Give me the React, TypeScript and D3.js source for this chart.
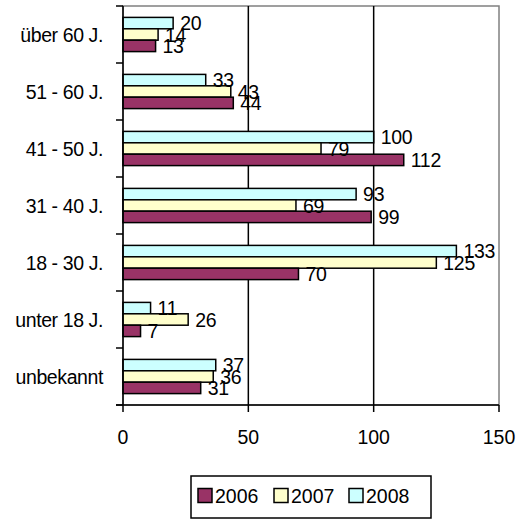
import React from "react";
import * as d3 from "d3";

const categories = ["über 60 J.", "51 - 60 J.", "41 - 50 J.", "31 - 40 J.", "18 - 30 J.", "unter 18 J.", "unbekannt"];
const seriesNames = ["2008", "2007", "2006"];
const values2006 = [13, 44, 112, 99, 70, 7, 31];
const values2007 = [14, 43, 79, 69, 125, 26, 36];
const values2008 = [20, 33, 100, 93, 133, 11, 37];
const xTicks = [0, 50, 100, 150];
const legendItems = ["2006", "2007", "2008"];

const colors: Record<string, string> = { "2006": "#993366", "2007": "#FFFFCC", "2008": "#CCFFFF" };
const seriesValues: Record<string, number[]> = { "2006": values2006, "2007": values2007, "2008": values2008 };

const FONT = "'Liberation Sans', Arial, sans-serif";

export default function App() {
  const left = 123, right = 499, top = 6, bottom = 405;
  const x = d3.scaleLinear().domain([0, 150]).range([left, right]);
  const y0 = d3.scaleBand().domain(categories).range([top, bottom]).paddingInner(0).paddingOuter(0);
  const y1 = d3.scaleBand().domain(seriesNames).range([0, y0.bandwidth()]).paddingInner(0).paddingOuter(1);
  const fs = 19.5;

  return (
    <svg width={519} height={519} style={{ position: "absolute", left: 0, top: 0 }} fontFamily={FONT}>
      <rect x={0} y={0} width={519} height={519} fill="#fff" />
      {/* plot border */}
      <rect x={left} y={top} width={right - left} height={bottom - top} fill="#fff" stroke="#808080" strokeWidth={1.5} />
      {/* gridlines */}
      {xTicks.slice(1, -1).map((t) => (
        <line key={t} x1={x(t)} x2={x(t)} y1={top} y2={bottom} stroke="#000" strokeWidth={1.5} />
      ))}
      {/* bars */}
      {categories.map((c, i) => (
        <g key={c}>
          {seriesNames.map((s) => {
            const v = seriesValues[s][i];
            const yy = (y0(c) as number) + (y1(s) as number);
            return (
              <rect key={s} x={x(0)} y={yy} width={x(v) - x(0)} height={y1.bandwidth()} fill={colors[s]} stroke="#000" strokeWidth={1.5} />
            );
          })}
        </g>
      ))}
      {/* value labels */}
      {categories.map((c, i) => (
        <g key={"l" + c}>
          {seriesNames.map((s) => {
            const v = seriesValues[s][i];
            const yy = (y0(c) as number) + (y1(s) as number) + y1.bandwidth() / 2;
            return (
              <text key={s} x={x(v) + 7} y={yy} dy="0.36em" fontSize={fs} fill="#000" letterSpacing={-0.3}>
                {v}
              </text>
            );
          })}
        </g>
      ))}
      {/* axes */}
      <line x1={left} x2={left} y1={top} y2={bottom} stroke="#000" strokeWidth={1.5} />
      <line x1={116} x2={right} y1={bottom} y2={bottom} stroke="#000" strokeWidth={1.5} />
      {d3.range(categories.length + 1).map((k) => {
        const yy = top + k * y0.step();
        return <line key={k} x1={116} x2={left} y1={yy} y2={yy} stroke="#000" strokeWidth={1.5} />;
      })}
      {xTicks.map((t) => (
        <g key={t}>
          <line x1={x(t)} x2={x(t)} y1={bottom} y2={bottom + 7} stroke="#000" strokeWidth={1.5} />
          <text x={x(t)} y={437} dy="0.36em" textAnchor="middle" fontSize={fs}>
            {t}
          </text>
        </g>
      ))}
      {categories.map((c) => (
        <text key={c} x={103} y={(y0(c) as number) + y0.bandwidth() / 2} dy="0.36em" textAnchor="end" fontSize={fs} letterSpacing={-0.4}>
          {c}
        </text>
      ))}
      {/* legend */}
      <rect x={191} y={476} width={240} height={42} fill="#fff" stroke="#000" strokeWidth={1.5} />
      {legendItems.map((s, i) => {
        const lx = [198, 274, 349][i];
        return (
          <g key={s}>
            <rect x={lx} y={488.5} width={14} height={14} fill={colors[s]} stroke="#000" strokeWidth={1.5} />
            <text x={lx + 17} y={496} dy="0.36em" fontSize={fs}>
              {s}
            </text>
          </g>
        );
      })}
    </svg>
  );
}
